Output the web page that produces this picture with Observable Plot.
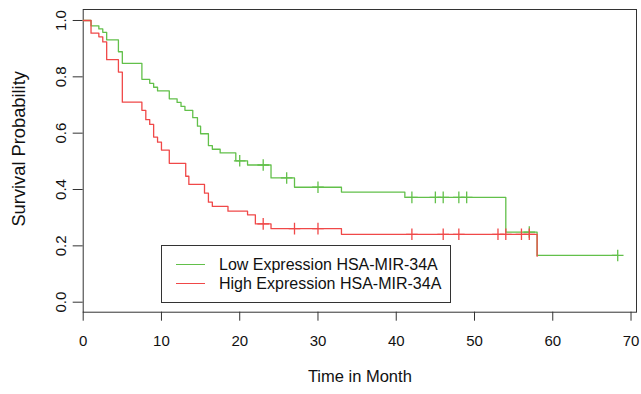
<!DOCTYPE html>
<html><head><meta charset="utf-8">
<script src="https://cdn.jsdelivr.net/npm/d3@7"></script>
<script src="https://cdn.jsdelivr.net/npm/@observablehq/plot@0.6"></script>
<style>
body{margin:0;background:#fff;}
#wrap{position:relative;width:641px;height:394px;font-family:"Liberation Sans",Arial,Helvetica,sans-serif;}
#legend{position:absolute;left:161px;top:245px;width:290px;height:58px;border:1px solid #333;background:#fff;box-sizing:border-box;}
.row{position:absolute;left:0;height:18px;width:100%;}
.sw{position:absolute;left:14px;width:29px;top:8px;height:0;border-top:1.3px solid;}
.lab{position:absolute;left:57px;top:0;font-size:16px;line-height:18px;color:#111;white-space:nowrap;}
</style></head>
<body><div id="wrap"><div id="chart"></div><div id="legend"></div></div>
<script>
const groups = ["Low Expression HSA-MIR-34A", "High Expression HSA-MIR-34A"];
const colors = ["#62c04a", "#f04848"];

const lowTime = [0, 1.0, 2.0, 2.5, 3.0, 4.5, 5.0, 7.5, 8.5, 9.0, 9.5, 11.0, 12.0, 12.5, 13.0, 14.0, 14.6, 15.0, 16.0, 16.5, 17.5, 19.5, 21.0, 24.0, 27.0, 33.0, 41.1, 54.0, 58.0, 68.3];
const lowSurv = [1.0, 0.981, 0.970, 0.958, 0.931, 0.889, 0.848, 0.791, 0.777, 0.763, 0.750, 0.722, 0.709, 0.695, 0.681, 0.655, 0.625, 0.598, 0.556, 0.543, 0.530, 0.502, 0.487, 0.441, 0.408, 0.391, 0.372, 0.249, 0.166, 0.166];

const highTime = [0, 1.0, 2.0, 2.5, 3.0, 4.5, 5.0, 7.5, 8.0, 8.5, 9.0, 9.5, 10.0, 11.0, 13.1, 13.5, 15.5, 16.0, 16.5, 18.5, 21.0, 22.0, 24.0, 33.0, 58.0];
const highSurv = [1.0, 0.955, 0.942, 0.924, 0.861, 0.817, 0.710, 0.681, 0.648, 0.631, 0.586, 0.568, 0.540, 0.493, 0.447, 0.418, 0.387, 0.355, 0.340, 0.323, 0.310, 0.278, 0.261, 0.241, 0.163];

const lowCensorTime = [20, 23, 26, 30, 42, 45, 46, 48, 49, 57, 68.3];
const lowCensorSurv = [0.502, 0.487, 0.441, 0.408, 0.372, 0.372, 0.372, 0.372, 0.372, 0.249, 0.166];
const highCensorTime = [23, 27, 30, 42, 46, 48, 53, 54, 56, 57];
const highCensorSurv = [0.278, 0.261, 0.261, 0.241, 0.241, 0.241, 0.241, 0.241, 0.241, 0.241];

const xTicks = [0, 10, 20, 30, 40, 50, 60, 70];
const yTicks = [0.0, 0.2, 0.4, 0.6, 0.8, 1.0];
const xTitle = "Time in Month";
const yTitle = "Survival Probability";

const zip = (a, b) => a.map((t, i) => ({t, s: b[i]}));
const low = zip(lowTime, lowSurv), high = zip(highTime, highSurv);
const lowC = zip(lowCensorTime, lowCensorSurv), highC = zip(highCensorTime, highCensorSurv);

const plus = {draw(ctx, size) { const r = Math.sqrt(size / Math.PI); ctx.moveTo(-r, 0); ctx.lineTo(r, 0); ctx.moveTo(0, -r); ctx.lineTo(0, r); }};

const font = '"Liberation Sans", Arial, Helvetica, sans-serif';
const chart = Plot.plot({
  width: 641, height: 394,
  marginLeft: 82.7, marginRight: 5, marginTop: 9, marginBottom: 82.3,
  style: {fontFamily: font, fontSize: "15px", color: "#111", background: "#fff"},
  x: {domain: [0, 70.7]},
  y: {domain: [-0.0355, 1.039]},
  marks: [
    Plot.axisX(xTicks, {tickSize: 9, tickPadding: 14.5, fontSize: 15, tickFormat: d3.format("d"), stroke: "#333", label: null}),
    Plot.axisY(yTicks, {tickSize: 10, tickFormat: () => "", stroke: "#333", label: null}),
    Plot.text(yTicks, {y: d => d, text: d3.format(".1f"), frameAnchor: "left", textAnchor: "middle", dx: -21.7, rotate: -90, fontSize: 15, fill: "#111"}),
    Plot.text([xTitle], {text: d => d, frameAnchor: "bottom", textAnchor: "middle", dy: 69.5, fontSize: 16.5, fill: "#111"}),
    Plot.text([yTitle], {text: d => d, frameAnchor: "left", textAnchor: "middle", dx: -64.2, dy: -12, rotate: -90, fontSize: 18.3, fill: "#111"}),
    Plot.frame({stroke: "#333"}),
    Plot.line(low, {x: "t", y: "s", curve: "step-after", stroke: colors[0], strokeWidth: 1.3}),
    Plot.dot(lowC, {x: "t", y: "s", symbol: plus, r: 5.8, fill: "none", stroke: colors[0], strokeWidth: 1.3}),
    Plot.line(high, {x: "t", y: "s", curve: "step-after", stroke: colors[1], strokeWidth: 1.3}),
    Plot.dot(highC, {x: "t", y: "s", symbol: plus, r: 5.8, fill: "none", stroke: colors[1], strokeWidth: 1.3})
  ]
});
document.getElementById("chart").appendChild(chart);

const leg = document.getElementById("legend");
groups.forEach((g, i) => {
  const row = document.createElement("div");
  row.className = "row";
  row.style.top = (10.3 + i * 18.4) + "px";
  const sw = document.createElement("div");
  sw.className = "sw"; sw.style.borderColor = colors[i];
  const lab = document.createElement("div");
  lab.className = "lab"; lab.textContent = g;
  row.appendChild(sw); row.appendChild(lab);
  leg.appendChild(row);
});
</script></body></html>
